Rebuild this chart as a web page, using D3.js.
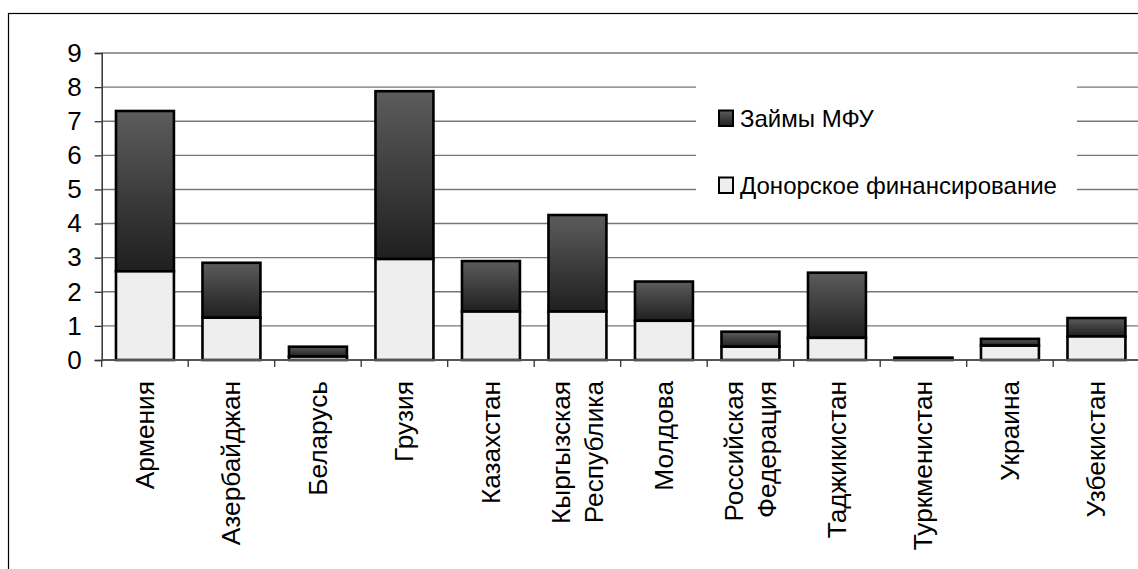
<!DOCTYPE html>
<html>
<head>
<meta charset="utf-8">
<script src="https://cdn.jsdelivr.net/npm/d3@7"></script>
<style>
    body { margin: 0; background: #fff; }
    text { font-family: "Liberation Sans", Arial, sans-serif; fill: #000; }
</style>
</head>
<body>
<script>
//chart data
var countries = ["Армения", "Азербайджан", "Беларусь", "Грузия", "Казахстан",
    "Кыргызская\nРеспублика", "Молдова", "Российская\nФедерация", "Таджикистан",
    "Туркменистан", "Украина", "Узбекистан"];
var donorValues = [2.6, 1.24, 0.1, 2.96, 1.42, 1.42, 1.15, 0.39, 0.65, 0.02, 0.42, 0.69];
var loanValues = [4.7, 1.61, 0.29, 4.92, 1.48, 2.83, 1.15, 0.44, 1.91, 0.05, 0.2, 0.54];
var yTicks = [0, 1, 2, 3, 4, 5, 6, 7, 8, 9];
var seriesNames = ["Займы МФУ", "Донорское финансирование"];

window.onload = drawChart();

function drawChart() {
    var width = 1138,
        height = 569;

    var svg = d3.select("body")
        .append("svg")
        .attr("width", width)
        .attr("height", height);

    //gradient for the loan segments
    var grad = svg.append("defs")
        .append("linearGradient")
        .attr("id", "loanGrad")
        .attr("x1", 0).attr("y1", 0).attr("x2", 0).attr("y2", 1);
    grad.append("stop").attr("offset", "0%").attr("stop-color", "#5c5c5c");
    grad.append("stop").attr("offset", "100%").attr("stop-color", "#1f1f1f");

    //outer frame, cut off on the right and bottom
    svg.append("rect")
        .attr("x", 8.5).attr("y", 13.5)
        .attr("width", 1400).attr("height", 800)
        .attr("fill", "none")
        .attr("stroke", "#000")
        .attr("stroke-width", 1.2);

    var x0 = 101.7,
        step = 86.5;

    var x = d3.scaleBand()
        .domain(countries)
        .range([x0, x0 + step * countries.length])
        .paddingInner(0.33)
        .paddingOuter(0.165);

    var y = d3.scaleLinear()
        .domain([0, 9])
        .range([360, 53]);

    //gridlines
    svg.append("g")
        .selectAll("line")
        .data(yTicks.slice(1))
        .enter()
        .append("line")
        .attr("x1", x0).attr("x2", width + 10)
        .attr("y1", function (d) { return y(d); })
        .attr("y2", function (d) { return y(d); })
        .attr("stroke", "#777")
        .attr("stroke-width", 1.4);

    //legend box hides part of the grid
    var lg = svg.append("g");
    lg.append("rect")
        .attr("x", 696).attr("y", 66)
        .attr("width", 381).attr("height", 146)
        .attr("fill", "#fff");

    //stacked bars
    var stack = countries.map(function (c, i) {
        return { name: c, donor: donorValues[i], loan: loanValues[i] };
    });

    var bars = svg.append("g")
        .selectAll("g")
        .data(stack)
        .enter()
        .append("g");

    bars.append("rect")
        .attr("x", function (d) { return x(d.name); })
        .attr("width", x.bandwidth())
        .attr("y", function (d) { return y(d.donor + d.loan); })
        .attr("height", function (d) { return y(d.donor) - y(d.donor + d.loan); })
        .attr("fill", "url(#loanGrad)")
        .attr("stroke", "#000")
        .attr("stroke-width", 2.6);

    bars.append("rect")
        .attr("x", function (d) { return x(d.name); })
        .attr("width", x.bandwidth())
        .attr("y", function (d) { return y(d.donor); })
        .attr("height", function (d) { return y(0) - y(d.donor); })
        .attr("fill", "#eeeeee")
        .attr("stroke", "#000")
        .attr("stroke-width", 2.6);

    //y axis
    var yAxis = svg.append("g")
        .attr("transform", "translate(" + x0 + ",0)")
        .call(d3.axisLeft(y).tickValues(yTicks).tickSize(7).tickPadding(13));
    yAxis.select(".domain").attr("stroke", "#333").attr("stroke-width", 1.5);
    yAxis.selectAll(".tick line").attr("stroke", "#333").attr("stroke-width", 1.3);
    yAxis.selectAll(".tick text")
        .style("font-family", "Liberation Sans, Arial, sans-serif")
        .style("font-size", "26px")
        .attr("fill", "#000");

    //x axis baseline and tick marks at band edges
    var xa = svg.append("g");
    xa.append("line")
        .attr("x1", x0).attr("x2", width + 10)
        .attr("y1", y(0)).attr("y2", y(0))
        .attr("stroke", "#555")
        .attr("stroke-width", 2);
    xa.selectAll(".xt")
        .data(countries)
        .enter()
        .append("line")
        .attr("class", "xt")
        .attr("x1", function (d) { return x(d) - x.step() * x.paddingInner() / 2; })
        .attr("x2", function (d) { return x(d) - x.step() * x.paddingInner() / 2; })
        .attr("y1", y(0)).attr("y2", y(0) + 7)
        .attr("stroke", "#333")
        .attr("stroke-width", 1.3);

    //rotated category labels
    xa.selectAll(".xl")
        .data(countries)
        .enter()
        .append("text")
        .attr("class", "xl")
        .attr("transform", function (d) {
            return "translate(" + (x(d) + x.bandwidth() / 2) + ",381) rotate(-90) scale(1.03,1)";
        })
        .attr("text-anchor", "end")
        .style("font-size", "25.5px")
        .each(function (d) {
            var lines = d.split("\n");
            var t = d3.select(this);
            lines.forEach(function (l, k) {
                t.append("tspan")
                    .attr("x", 0)
                    .attr("y", (k - (lines.length - 1) / 2) * 33)
                    .attr("dy", "0.35em")
                    .text(l);
            });
        });

    //legend
    var items = [
        { name: seriesNames[0], fill: "url(#loanGrad)", y: 110.5 },
        { name: seriesNames[1], fill: "#eeeeee", y: 177.5 }
    ];
    items.forEach(function (it) {
        lg.append("rect")
            .attr("x", 719).attr("y", it.y)
            .attr("width", 14).attr("height", 15.5)
            .attr("fill", it.fill)
            .attr("stroke", "#000")
            .attr("stroke-width", 2);
        lg.append("text")
            .attr("x", 740)
            .attr("y", it.y + 16.3)
            .style("font-size", "24px")
            .text(it.name);
    });
}
</script>
</body>
</html>
